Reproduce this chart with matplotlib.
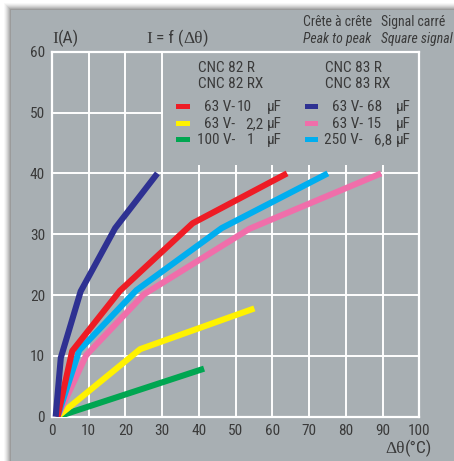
import matplotlib
matplotlib.use("Agg")
import matplotlib.pyplot as plt
from matplotlib.patches import Rectangle
from matplotlib import font_manager

# ---------------- data ----------------
x_ticks = [0, 10, 20, 30, 40, 50, 60, 70, 80, 90, 100]
y_ticks = [0, 10, 20, 30, 40, 50, 60]

# CNC 82 R / RX
x_red = [1.5, 5.5, 18.5, 38.3, 64.0]       # 63 V - 10 uF
y_red = [0, 10.8, 20.7, 31.8, 40]
x_yellow = [1.5, 24.0, 55.1]               # 63 V - 2,2 uF
y_yellow = [0, 11.1, 17.8]
x_green = [1.5, 41.4]                      # 100 V - 1 uF
y_green = [0, 7.9]
# CNC 83 R / RX
x_blue = [1.0, 2.4, 7.8, 17.2, 28.7]       # 63 V - 68 uF
y_blue = [0, 9.7, 20.6, 31.0, 40]
x_pink = [1.5, 9.3, 25.0, 53.8, 89.6]      # 63 V - 15 uF
y_pink = [0, 10.1, 20.1, 30.9, 40]
x_cyan = [1.5, 7.4, 23.0, 46.2, 75.1]      # 250 V - 6,8 uF
y_cyan = [0, 10.9, 20.8, 31.0, 40]

left_volts = ["63 V-", "63 V-", "100 V-"]
left_caps = ["10", "2,2", "1"]
right_volts = ["63 V-", "63 V-", "250 V-"]
right_caps = ["68", "15", "6,8"]

C_RED, C_YEL, C_GRN = "#ee1c25", "#fff200", "#00a651"
C_BLU, C_PNK, C_CYN = "#2e3192", "#f06eaa", "#00aeef"
PANEL = "#a8afb3"
TXT = "#3a3a3a"

# pick a narrow sans font if one is installed
_fonts = font_manager.fontManager.ttflist
_names = {f.name for f in _fonts}
SANS_STRETCH = "normal"
FS = 10
if "Liberation Sans Narrow" in _names:
    SANS = ["Liberation Sans Narrow", "DejaVu Sans"]
    FS = 11
elif "Roboto Condensed" in _names:
    SANS = ["Roboto Condensed", "DejaVu Sans"]
    FS = 11
elif any(f.name == "DejaVu Sans" and f.stretch == "condensed" for f in _fonts):
    SANS = ["DejaVu Sans"]
    SANS_STRETCH = "condensed"
    FS = 10
else:
    SANS = ["Liberation Sans", "DejaVu Sans"]
    FS = 9.5
SERIF = ["Liberation Serif", "DejaVu Serif"]

W, H = 454, 461
fig = plt.figure(figsize=(W / 100, H / 100), dpi=100)
fig.patch.set_facecolor("white")

# shadow + panel (behind the axes)
for i, a in enumerate([0.04, 0.06, 0.08, 0.10, 0.13, 0.16, 0.2]):
    off = 7 - i
    fig.patches.append(Rectangle(((11 - off) / W, 0), 1, (H - 10 + off) / H,
                                 transform=fig.transFigure, facecolor="#505050",
                                 alpha=a, edgecolor="none", zorder=-20))
fig.patches.append(Rectangle((11 / W, 0), 1, (H - 10) / H, transform=fig.transFigure,
                             facecolor=PANEL, edgecolor="none", zorder=-10))

ax = fig.add_axes([52 / W, 44.3 / H, 367.3 / W, 365 / H])
ax.set_facecolor(PANEL)
ax.set_xlim(0, 100)
ax.set_ylim(0, 60)
ax.set_xticks(x_ticks)
ax.set_yticks(y_ticks)
ax.set_xticklabels([str(v) for v in x_ticks], family=SANS, stretch=SANS_STRETCH,
                   fontsize=FS, color=TXT)
ax.set_yticklabels([str(v) for v in y_ticks], family=SANS, stretch=SANS_STRETCH,
                   fontsize=FS, color=TXT)
ax.tick_params(length=0, pad=5)
ax.grid(True, color="white", lw=1.4, zorder=0.5)
ax.set_axisbelow(True)
for s in ax.spines.values():
    s.set_color("white")
    s.set_linewidth(1.6)
    s.set_zorder(2.5)

# legend area covering the grid
ax.add_patch(Rectangle((30.35, 41.4), 69.5, 18.4, facecolor=PANEL, edgecolor="none", zorder=1))

kw = dict(lw=4.4, solid_capstyle="butt", solid_joinstyle="round", zorder=3)
ax.plot(x_green, y_green, color=C_GRN, **kw)
ax.plot(x_yellow, y_yellow, color=C_YEL, **kw)
ax.plot(x_pink, y_pink, color=C_PNK, **kw)
ax.plot(x_cyan, y_cyan, color=C_CYN, **kw)
ax.plot(x_red, y_red, color=C_RED, **kw)
ax.plot(x_blue, y_blue, color=C_BLU, **kw)


def px2d(px, py):
    return (px - 52) / 3.673, (416.7 - py) / 6.083


def txt(px, py, s, ha="left", style="normal", va="center", size=None):
    x, y = px2d(px, py)
    return ax.text(x, y, s, ha=ha, va=va, family=SANS, stretch=SANS_STRETCH,
                   fontsize=size or FS, style=style, color=TXT, clip_on=False, zorder=4)


# legend
txt(198, 68, "CNC 82 R")
txt(198, 84, "CNC 82 RX")
txt(325, 68, "CNC 83 R")
txt(325, 84, "CNC 83 RX")
rows_y = [107, 124, 140]
left_cols = [C_RED, C_YEL, C_GRN]
right_cols = [C_BLU, C_PNK, C_CYN]
cap_left_px = [237, 245, 247]
cap_right_px = [367, 367, 374]
for i, py in enumerate(rows_y):
    x0, y0 = px2d(176, py + 2.5)
    x1, y1 = px2d(190, py - 2.5)
    ax.add_patch(Rectangle((x0, y0), x1 - x0, y1 - y0, facecolor=left_cols[i],
                           edgecolor="none", zorder=4, clip_on=False))
    x0, y0 = px2d(305, py + 2.5)
    x1, y1 = px2d(318, py - 2.5)
    ax.add_patch(Rectangle((x0, y0), x1 - x0, y1 - y0, facecolor=right_cols[i],
                           edgecolor="none", zorder=4, clip_on=False))
    txt(235, py, left_volts[i], ha="right")
    txt(cap_left_px[i], py, left_caps[i])
    txt(267, py, "µF")
    txt(363, py, right_volts[i], ha="right")
    txt(cap_right_px[i], py, right_caps[i])
    txt(396, py, "µF")

# header texts
HS = FS * 0.9
txt(303, 22, "Crête à crête", size=HS)
txt(303, 39, "Peak to peak", style="italic", size=HS)
txt(381, 22, "Signal carré", size=HS)
txt(381, 39, "Square signal", style="italic", size=HS)


def chain(px, py_base, parts, size):
    x, y = px2d(px, py_base)
    prev = None
    for s, fam in parts:
        st = SANS_STRETCH if fam is SANS else "normal"
        if prev is None:
            prev = ax.text(x, y, s, family=fam, stretch=st, fontsize=size, color=TXT,
                           va="baseline", ha="left", clip_on=False)
        else:
            prev = ax.annotate(s, xy=(1, 0), xycoords=prev, va="bottom", ha="left",
                               family=fam, stretch=st, fontsize=size, color=TXT,
                               annotation_clip=False)
    return prev


chain(52, 43, [("I", SERIF), ("(A)", SANS)], FS + 1.5)
chain(146, 43, [("I", SERIF), (" = f (", SANS), ("Δθ", SERIF), (")", SANS)], FS + 1.5)
chain(385, 453, [("Δθ", SERIF), ("(°C)", SANS)], FS + 1.5)

fig.savefig("out.png", dpi=100, facecolor=fig.get_facecolor())
